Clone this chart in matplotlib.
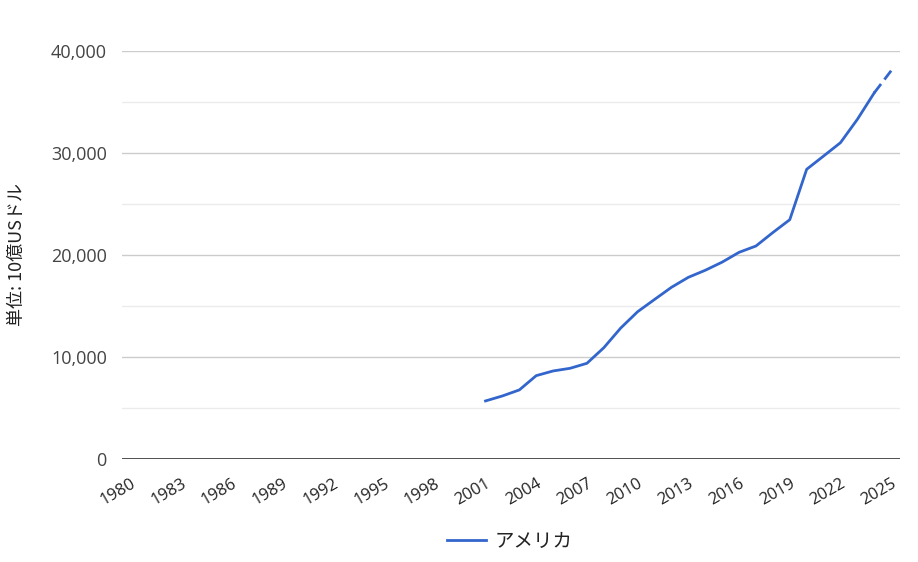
import matplotlib
matplotlib.use("Agg")
import matplotlib.pyplot as plt
from matplotlib.ticker import MultipleLocator, FuncFormatter

plt.rcParams['font.family'] = ['Open Sans', 'Noto Sans CJK JP', 'DejaVu Sans']

years = list(range(1980, 2026))
data_years = list(range(2001, 2026))
values = [5690, 6180, 6770, 8170, 8630, 8890, 9380, 10910, 12840, 14440,
          15640, 16830, 17810, 18500, 19300, 20260, 20880, 22200, 23460, 28400,
          29700, 31010, 33300, 35900, 38070]
series_name = "アメリカ"
ylabel = "単位: 10億USドル"
tick_years = list(range(1980, 2026, 3))

fig = plt.figure(figsize=(9.18, 5.62), dpi=100)
ax = fig.add_axes([0.133, 0.1833, 0.847, 0.7260])

color = "#3366cc"
idx = [years.index(y) for y in data_years]
ax.plot(idx[:-1], values[:-1], color=color, lw=2.0, solid_joinstyle='round', zorder=3,
        label=series_name)
ax.plot(idx[-2:], values[-2:], color=color, lw=2.0, dashes=(4, 2), dash_capstyle='butt', zorder=3)

ax.set_xlim(-0.5, len(years) - 0.5)
ax.set_ylim(0, 40000)
ax.yaxis.set_major_locator(MultipleLocator(10000))
ax.yaxis.set_minor_locator(MultipleLocator(5000))
ax.yaxis.set_major_formatter(FuncFormatter(lambda v, p: f"{int(v):,}"))
ax.grid(axis='y', which='major', color='#cccccc', lw=1)
ax.grid(axis='y', which='minor', color='#ebebeb', lw=1)
ax.set_axisbelow(True)
ax.axhline(0, color='#333333', lw=1.2, zorder=2)

ax.set_xticks([years.index(y) for y in tick_years])
ax.set_xticklabels([str(y) for y in tick_years], rotation=30, ha='right',
                   rotation_mode='anchor', fontsize=12, color='#222222')
ax.tick_params(axis='x', length=0, pad=12)
ax.tick_params(axis='y', which='both', length=0, pad=11, labelsize=13, labelcolor='#444444')
for s in ax.spines.values():
    s.set_visible(False)

fig.text(0.018, 1 - 255 / 562, ylabel, rotation=90, va='center', ha='center', fontsize=13,
         color='#222222', family=['Noto Sans CJK JP', 'DejaVu Sans'])

leg = fig.legend(loc='center', bbox_to_anchor=(0.555, 0.037), frameon=False,
                 prop={'size': 14, 'family': ['Noto Sans CJK JP', 'DejaVu Sans']},
                 handlelength=2.0, handletextpad=0.45)
for t in leg.get_texts():
    t.set_color('#222222')

fig.savefig("out.png", dpi=100)
